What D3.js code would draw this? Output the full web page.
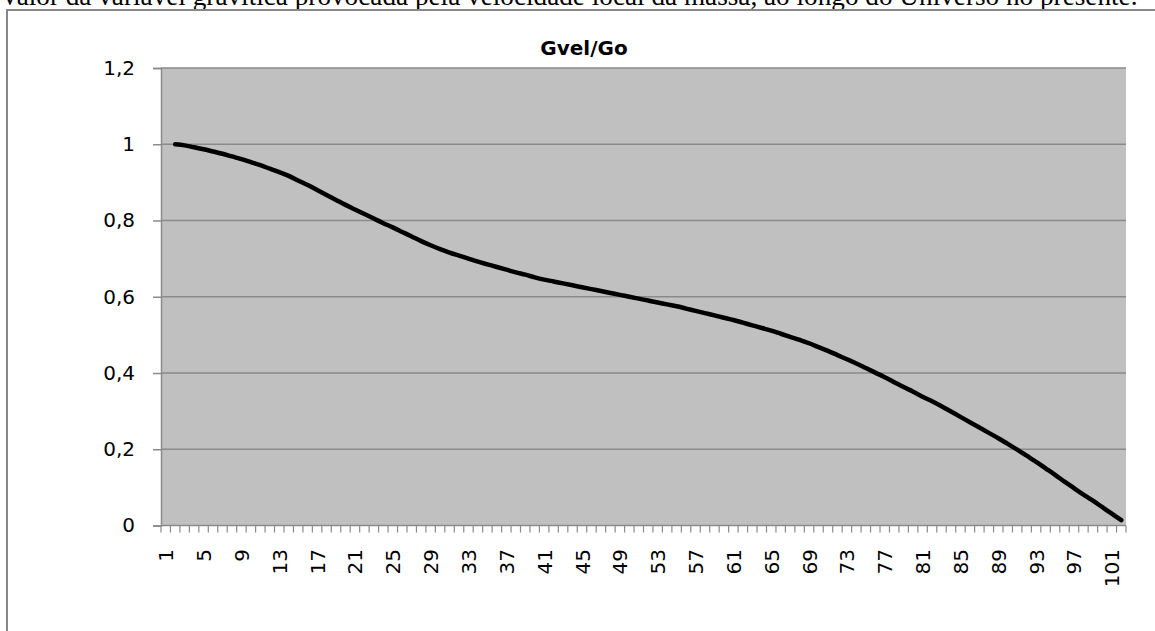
<!DOCTYPE html>
<html>
<head>
<meta charset="utf-8">
<script src="https://cdn.jsdelivr.net/npm/d3@7"></script>
<style>
  html, body { margin: 0; padding: 0; background: #fff; }
  svg { display: block; }
</style>
</head>
<body>
<svg id="chart" width="1155" height="631"></svg>
<script>
const caption = "Valor da variável gravítica provocada pela velocidade local da massa, ao longo do Universo no presente.";
const title = "Gvel/Go";
const categories = d3.range(1, 103);
const yTicks = [0, 0.2, 0.4, 0.6, 0.8, 1, 1.2];
const yTickLabels = ["0", "0,2", "0,4", "0,6", "0,8", "1", "1,2"];
const xLabelEvery = 4;
// values for categories 1..102 (category 1 empty)
const gvel = [null,
  1.000, 0.997, 0.992, 0.987, 0.981, 0.975, 0.968, 0.961, 0.953,
  0.945, 0.936, 0.927, 0.917, 0.905, 0.893, 0.880, 0.867, 0.854, 0.841,
  0.829, 0.817, 0.805, 0.793, 0.782, 0.770, 0.758, 0.746, 0.735, 0.725,
  0.716, 0.708, 0.700, 0.692, 0.685, 0.678, 0.671, 0.664, 0.658, 0.651,
  0.645, 0.640, 0.635, 0.630, 0.625, 0.620, 0.615, 0.610, 0.605, 0.600,
  0.595, 0.590, 0.585, 0.580, 0.575, 0.569, 0.563, 0.557, 0.551, 0.545,
  0.539, 0.532, 0.525, 0.518, 0.511, 0.503, 0.495, 0.487, 0.478, 0.468,
  0.458, 0.447, 0.436, 0.425, 0.413, 0.401, 0.389, 0.376, 0.363, 0.351,
  0.338, 0.326, 0.313, 0.299, 0.285, 0.271, 0.257, 0.243, 0.229, 0.214,
  0.199, 0.183, 0.167, 0.150, 0.133, 0.115, 0.098, 0.081, 0.065, 0.048,
  0.031, 0.014
];

const svg = d3.select("#chart");
const plot = { left: 161, right: 1126, top: 68, bottom: 525.5 };
const labelFont = "'DejaVu Sans', sans-serif";

// caption text (cut off at top, as in the source page)
const cap = svg.append("text")
  .attr("x", 0).attr("y", 5)
  .attr("font-family", "'Liberation Serif', 'Times New Roman', serif")
  .attr("font-size", 20)
  .attr("fill", "#000")
  .text(caption);
const capLen = cap.node().getComputedTextLength();
cap.attr("font-size", 20 * 1138 / capLen);

// chart frame
svg.append("rect")
  .attr("x", 7).attr("y", 10)
  .attr("width", 1200).attr("height", 700)
  .attr("fill", "#fff")
  .attr("stroke", "#878787").attr("stroke-width", 2);

const x = d3.scaleBand().domain(categories).range([plot.left, plot.right]).padding(0);
const y = d3.scaleLinear().domain([0, 1.2]).range([plot.bottom, plot.top]);

// plot background
svg.append("rect")
  .attr("x", plot.left).attr("y", plot.top)
  .attr("width", plot.right - plot.left).attr("height", plot.bottom - plot.top)
  .attr("fill", "#c0c0c0");

// gridlines
svg.append("g").selectAll("line")
  .data(yTicks.filter(d => d > 0))
  .join("line")
  .attr("x1", plot.left).attr("x2", plot.right)
  .attr("y1", d => y(d)).attr("y2", d => y(d))
  .attr("stroke", "#8a8a8a").attr("stroke-width", 1.5);

// y axis
const yAxis = d3.axisLeft(y).tickValues(yTicks)
  .tickFormat((d, i) => yTickLabels[i]).tickSize(8).tickPadding(18);
const gy = svg.append("g").attr("transform", `translate(${plot.left},0)`).call(yAxis);
gy.select(".domain").attr("stroke", "#8a8a8a").attr("stroke-width", 1.5);
gy.selectAll(".tick line").attr("stroke", "#8a8a8a").attr("stroke-width", 1.5);
gy.selectAll(".tick text")
  .attr("font-family", labelFont).attr("font-size", 20).attr("fill", "#000");

// x axis: tick marks at category boundaries
const boundaries = categories.map(c => x(c)).concat([plot.right]);
svg.append("g").selectAll("line")
  .data(boundaries)
  .join("line")
  .attr("x1", d => d).attr("x2", d => d)
  .attr("y1", plot.bottom).attr("y2", plot.bottom + 7)
  .attr("stroke", "#8a8a8a").attr("stroke-width", 1.2);
svg.append("line")
  .attr("x1", plot.left).attr("x2", plot.right)
  .attr("y1", plot.bottom).attr("y2", plot.bottom)
  .attr("stroke", "#8a8a8a").attr("stroke-width", 1.5);

// x labels
svg.append("g").selectAll("text")
  .data(categories.filter(c => (c - 1) % xLabelEvery === 0))
  .join("text")
  .attr("transform", d => `translate(${x(d) + x.bandwidth() / 2 + 7.5},549) rotate(-90)`)
  .attr("text-anchor", "end")
  .attr("font-family", labelFont).attr("font-size", 20).attr("fill", "#000")
  .text(d => d);

// line
const line = d3.line()
  .defined(d => d.v !== null)
  .x(d => x(d.c) + x.bandwidth() / 2)
  .y(d => y(d.v))
  .curve(d3.curveCatmullRom);
svg.append("path")
  .datum(categories.map((c, i) => ({ c, v: gvel[i] })))
  .attr("d", line)
  .attr("fill", "none")
  .attr("stroke", "#000").attr("stroke-width", 4.5)
  .attr("stroke-linecap", "round").attr("stroke-linejoin", "round");

// title
svg.append("text")
  .attr("x", 584).attr("y", 55)
  .attr("text-anchor", "middle")
  .attr("font-family", labelFont).attr("font-weight", "bold").attr("font-size", 20)
  .attr("fill", "#000")
  .text(title);
</script>
</body>
</html>
